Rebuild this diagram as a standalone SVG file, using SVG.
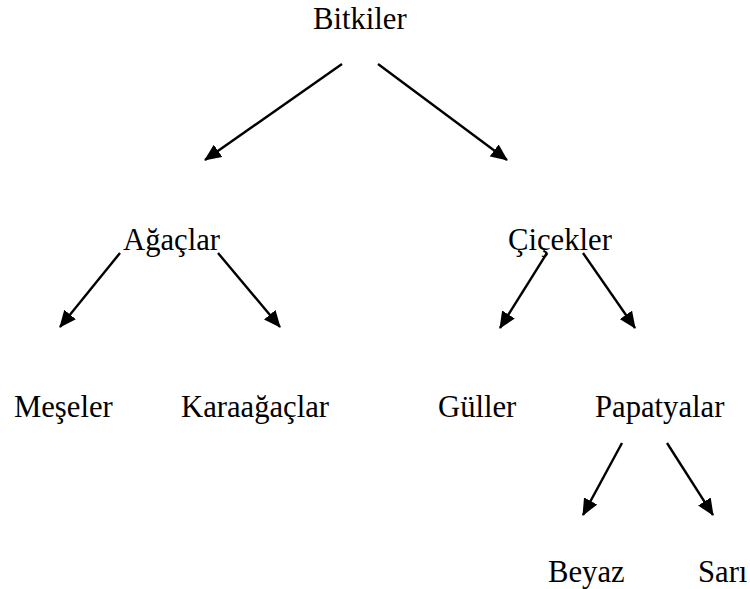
<svg xmlns="http://www.w3.org/2000/svg" width="750" height="589" viewBox="0 0 750 589">
<defs>
<style>
text{font-family:"Liberation Serif","Times New Roman",serif;font-size:30.67px;fill:#000}
.c line{stroke:#000;stroke-width:2.4;marker-end:url(#ah)}
</style>
<marker id="ah" viewBox="0 0 17 15" refX="16" refY="7.5" markerWidth="17" markerHeight="15" markerUnits="userSpaceOnUse" orient="auto">
<path d="M0,0 L17,7.5 L0,15 z" fill="#000"/>
</marker>
</defs>
<rect width="750" height="589" fill="#fff"/>
<g id="n-bitkiler"><text x="313" y="29">Bitkiler</text></g>
<g id="n-agaclar"><text x="123" y="250">Ağaçlar</text></g>
<g id="n-cicekler"><text x="508" y="250">Çiçekler</text></g>
<g id="n-meseler"><text x="14" y="417">Meşeler</text></g>
<g id="n-karaagaclar"><text x="181" y="417">Karaağaçlar</text></g>
<g id="n-guller"><text x="438" y="417">Güller</text></g>
<g id="n-papatyalar"><text x="595" y="417">Papatyalar</text></g>
<g id="n-beyaz"><text x="548" y="582">Beyaz</text></g>
<g id="n-sari"><text x="698" y="582">Sarı</text></g>
<g id="connectors" class="c">
<line x1="342" y1="64" x2="205" y2="160"/>
<line x1="378" y1="64" x2="507" y2="160"/>
<line x1="120" y1="253" x2="60" y2="327"/>
<line x1="218" y1="253" x2="280" y2="327"/>
<line x1="547" y1="253" x2="500" y2="328"/>
<line x1="583" y1="253" x2="635" y2="328"/>
<line x1="622" y1="443" x2="583" y2="515"/>
<line x1="667" y1="443" x2="713" y2="515"/>
</g>
</svg>
